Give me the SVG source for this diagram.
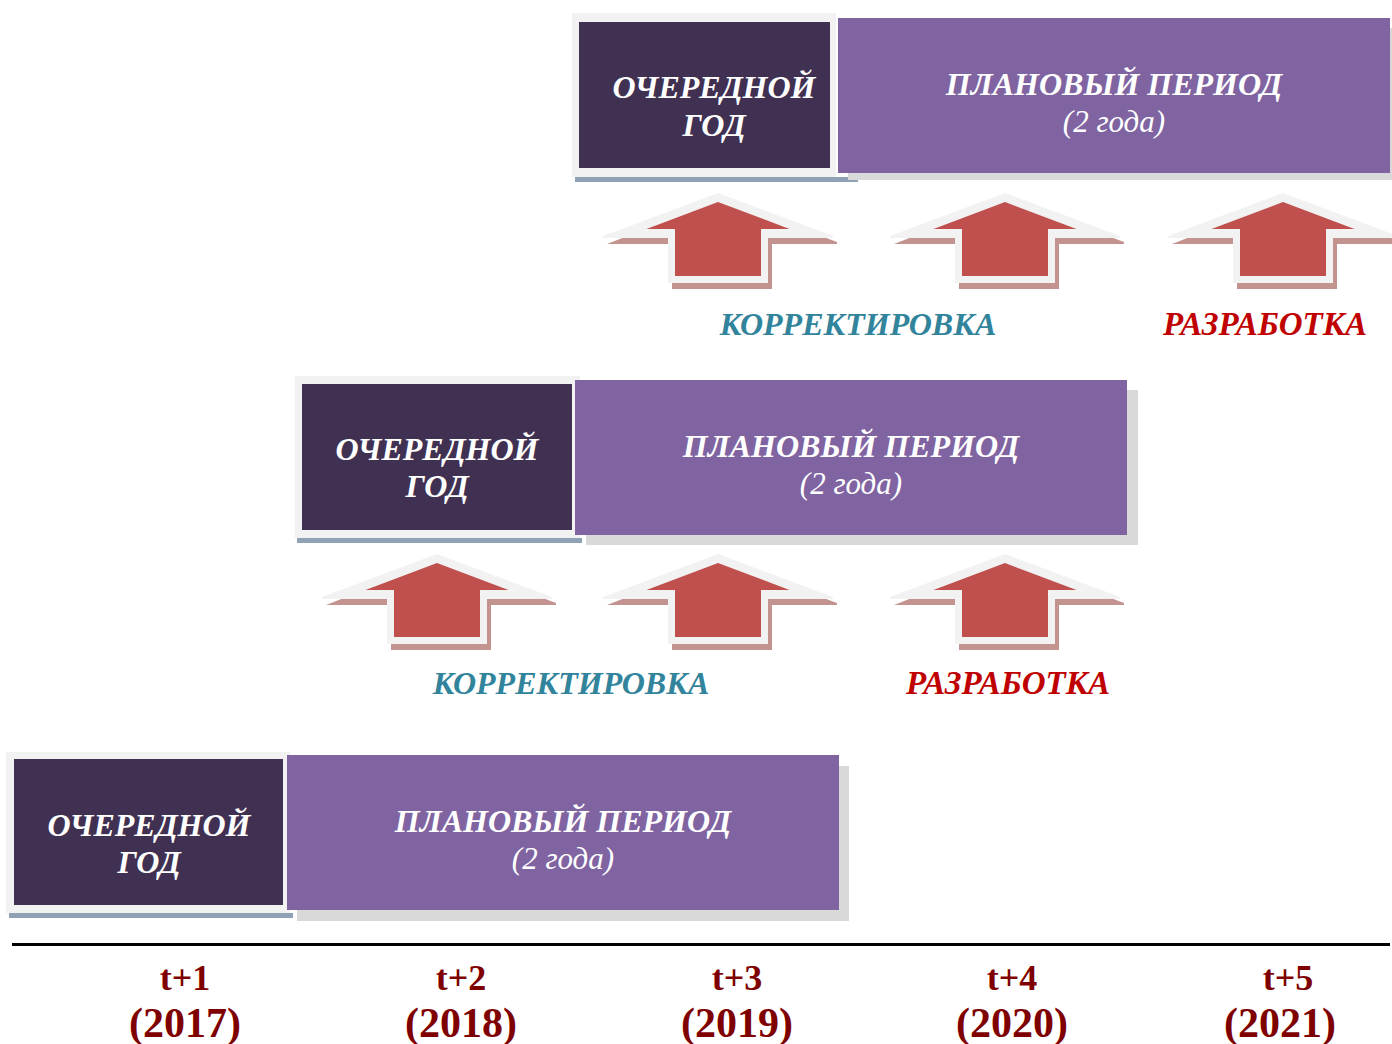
<svg xmlns="http://www.w3.org/2000/svg" xmlns:xlink="http://www.w3.org/1999/xlink" width="1392" height="1044" viewBox="0 0 1392 1044">
  <style>
    .frame { fill: #f2f2f2; }
    .dark { fill: #403152; }
    .strip { fill: #8fa1b4; }
    .purple { fill: #8064a2; }
    .pshadow { fill: #d9d9d9; }
    .t-year { font-family: "Liberation Serif", "Times New Roman", serif; font-weight: bold; fill: #7f0000; text-anchor: middle; }
    .t-white { font-family: "Liberation Serif", "Times New Roman", serif; font-weight: bold; font-style: italic; fill: #ffffff; text-anchor: middle; font-size: 32px; }
    .t-sub { font-family: "Liberation Serif", "Times New Roman", serif; font-style: italic; fill: #ffffff; text-anchor: middle; font-size: 31px; }
    .t-korr { font-family: "Liberation Serif", "Times New Roman", serif; font-weight: bold; font-style: italic; fill: #31849b; text-anchor: middle; font-size: 32px; }
    .t-razr { font-family: "Liberation Serif", "Times New Roman", serif; font-weight: bold; font-style: italic; fill: #c00000; text-anchor: middle; font-size: 33px; }
  </style>
  <defs>
    <g id="arrow">
      <polygon points="4,-3 119,40 119,42 54,42 54,87 -46,87 -46,42 -111,42" fill="#c3938f"/>
      <polygon points="0,-9 115,34 115,36 50,36 50,81 -50,81 -50,36 -115,36 -115,34" fill="#f2f2f2"/>
      <polygon points="0,0 71.5,27 43,27 43,74 -43,74 -43,27 -71.5,27" fill="#c0504d"/>
    </g>
  </defs>
  <rect width="1392" height="1044" fill="#ffffff"/>

  <!-- Top row -->
  <g id="top-current-year">
    <rect class="strip" x="575" y="177" width="283" height="5"/>
    <rect class="frame" x="572" y="13" width="264" height="164"/>
    <rect class="dark" x="579" y="22" width="251" height="146"/>
    <text class="t-white" x="714" y="98">ОЧЕРЕДНОЙ</text>
    <text class="t-white" x="714" y="136">ГОД</text>
  </g>
  <g id="top-planning-period">
    <rect class="pshadow" x="848" y="28" width="552" height="152"/>
    <rect class="purple" x="838" y="18" width="552" height="155"/>
    <text class="t-white" x="1114" y="95">ПЛАНОВЫЙ ПЕРИОД</text>
    <text class="t-sub" x="1114" y="132">(2 года)</text>
  </g>

  <!-- Middle row -->
  <g id="mid-current-year">
    <rect class="strip" x="297" y="538" width="285" height="5"/>
    <rect class="frame" x="295" y="376" width="285" height="162"/>
    <rect class="dark" x="302" y="384" width="270" height="146"/>
    <text class="t-white" x="437" y="460">ОЧЕРЕДНОЙ</text>
    <text class="t-white" x="437" y="497">ГОД</text>
  </g>
  <g id="mid-planning-period">
    <rect class="pshadow" x="586" y="390" width="552" height="155"/>
    <rect class="purple" x="575" y="380" width="552" height="155"/>
    <text class="t-white" x="851" y="457">ПЛАНОВЫЙ ПЕРИОД</text>
    <text class="t-sub" x="851" y="494">(2 года)</text>
  </g>

  <!-- Bottom row -->
  <g id="bot-current-year">
    <rect class="strip" x="9" y="913" width="284" height="5"/>
    <rect class="frame" x="6" y="752" width="284" height="161"/>
    <rect class="dark" x="14" y="759" width="269" height="146"/>
    <text class="t-white" x="149" y="836">ОЧЕРЕДНОЙ</text>
    <text class="t-white" x="149" y="873">ГОД</text>
  </g>
  <g id="bot-planning-period">
    <rect class="pshadow" x="297" y="766" width="552" height="155"/>
    <rect class="purple" x="287" y="755" width="552" height="155"/>
    <text class="t-white" x="563" y="832">ПЛАНОВЫЙ ПЕРИОД</text>
    <text class="t-sub" x="563" y="869">(2 года)</text>
  </g>

  <!-- Arrows -->
  <g id="connectors">
    <use xlink:href="#arrow" href="#arrow" transform="translate(718,202)"/>
    <use xlink:href="#arrow" href="#arrow" transform="translate(1005,202)"/>
    <use xlink:href="#arrow" href="#arrow" transform="translate(1283,202)"/>
    <use xlink:href="#arrow" href="#arrow" transform="translate(437,563)"/>
    <use xlink:href="#arrow" href="#arrow" transform="translate(718,563)"/>
    <use xlink:href="#arrow" href="#arrow" transform="translate(1005,563)"/>
  </g>

  <g id="labels">
    <text class="t-korr" x="858" y="335">КОРРЕКТИРОВКА</text>
    <text class="t-razr" x="1265" y="335">РАЗРАБОТКА</text>
    <text class="t-korr" x="571" y="694">КОРРЕКТИРОВКА</text>
    <text class="t-razr" x="1008" y="694">РАЗРАБОТКА</text>
  </g>

  <!-- Timeline -->
  <g id="timeline">
    <rect x="12" y="943" width="1378" height="3" fill="#000000"/>
    <text class="t-year" x="185" y="990" font-size="36">t+1</text>
    <text class="t-year" x="185" y="1037" font-size="42">(2017)</text>
    <text class="t-year" x="461" y="990" font-size="36">t+2</text>
    <text class="t-year" x="461" y="1037" font-size="42">(2018)</text>
    <text class="t-year" x="737" y="990" font-size="36">t+3</text>
    <text class="t-year" x="737" y="1037" font-size="42">(2019)</text>
    <text class="t-year" x="1012" y="990" font-size="36">t+4</text>
    <text class="t-year" x="1012" y="1037" font-size="42">(2020)</text>
    <text class="t-year" x="1288" y="990" font-size="36">t+5</text>
    <text class="t-year" x="1280" y="1037" font-size="42">(2021)</text>
  </g>
</svg>
